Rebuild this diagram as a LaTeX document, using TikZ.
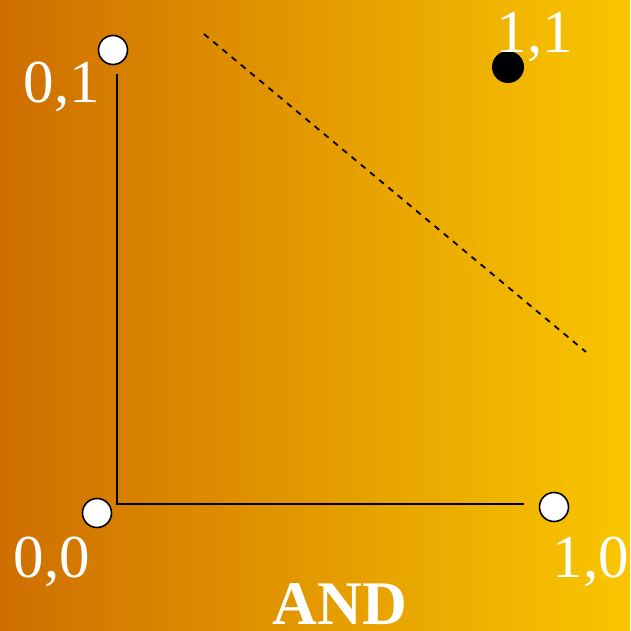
\documentclass[tikz,border=0pt]{standalone}
\usepackage{fontspec}
\setmainfont{Liberation Serif}
\usepackage{xcolor}
\definecolor{darkorange}{HTML}{CE6E00}
\definecolor{goldyellow}{HTML}{F9C600}
\begin{document}
\begin{tikzpicture}[x=1pt, y=-1pt]
                \tikzstyle{falsept} = [circle, draw=black, line width=1.6pt, fill=white, minimum size=29pt, inner sep=0pt]
                \tikzstyle{truept} = [circle, fill=black, minimum size=32pt, inner sep=0pt]
                \tikzstyle{ptlabel} = [text=white, font=\fontsize{61}{61}\selectfont, inner sep=0pt, anchor=base]
                \tikzstyle{axis} = [line width=1.8pt]
                
                \shade[left color=darkorange, right color=goldyellow] (0,0) rectangle (630,631);
                \useasboundingbox (0,0) rectangle (630,631);
                
                \node (p01) [falsept] at (113,50) {};
                \node (p11) [truept] at (508,67) {};
                \node (p00) [falsept] at (97,513) {};
                \node (p10) [falsept] at (554,507) {};
                
                \node (l01) [ptlabel] at (62,103) {0,1};
                \node (l11) [ptlabel] at (535,53) {1,1};
                \node (l00) [ptlabel] at (52,577) {0,0};
                \node (l10) [ptlabel] at (591,577) {1,0};
                \node (title) [ptlabel, text depth=0pt, font=\fontsize{62}{62}\selectfont\bfseries] at (340,624) {AND};
                
                \coordinate (ytop) at (117,74);
                \coordinate (origin) at (117,504);
                \coordinate (xend) at (524,504);
                \coordinate (sepA) at (204,34);
                \coordinate (sepB) at (586,352);
                
                \draw [axis] (ytop) -- (origin) -- (xend);
                \draw [line width=1.8pt, dash pattern=on 6pt off 6pt] (sepA) -- (sepB);
            \end{tikzpicture}
\end{document}
